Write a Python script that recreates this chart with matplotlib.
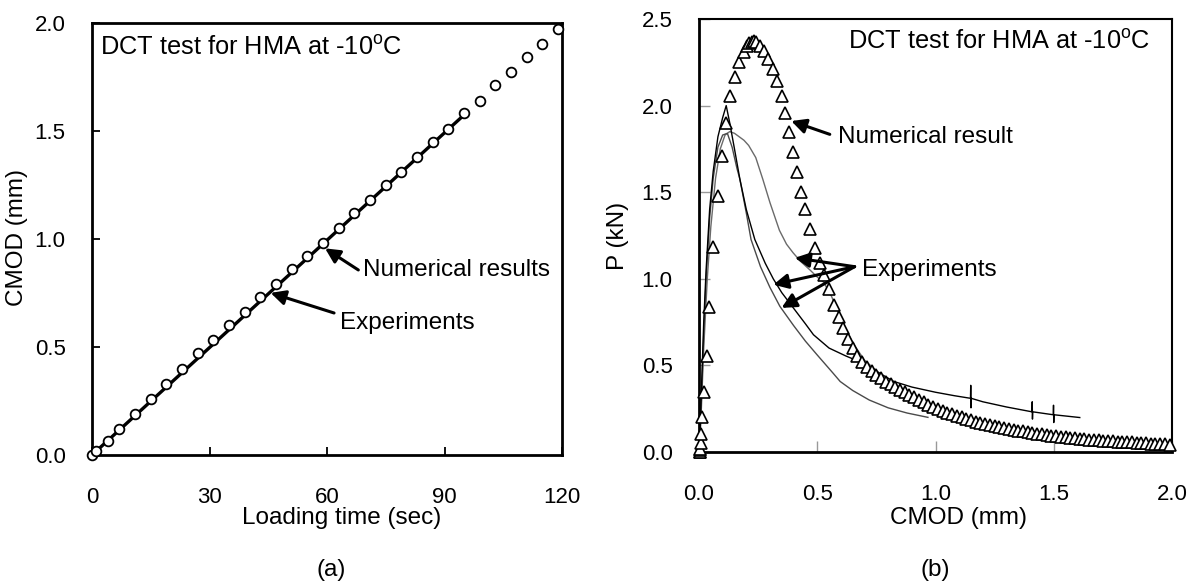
import matplotlib
matplotlib.use('Agg')
import matplotlib.pyplot as plt

plt.rcParams['font.family'] = ['Liberation Sans', 'DejaVu Sans']
plt.rcParams['mathtext.fontset'] = 'custom'
plt.rcParams['mathtext.rm'] = 'Liberation Sans'
plt.rcParams['mathtext.it'] = 'Liberation Sans:italic'

# ---------------- Panel (a): CMOD vs loading time ----------------
num_time = [0, 1, 4, 7, 11, 15, 19, 23, 27, 31, 35, 39, 43, 47, 51, 55, 59, 63,
            67, 71, 75, 79, 83, 87, 91, 95, 99, 103, 107, 111, 115, 119]
num_cmod_a = [0.0, 0.02, 0.065, 0.12, 0.19, 0.26, 0.33, 0.40, 0.47, 0.53, 0.60,
              0.66, 0.73, 0.79, 0.86, 0.92, 0.98, 1.05, 1.12, 1.18, 1.25, 1.31,
              1.38, 1.45, 1.51, 1.58, 1.64, 1.71, 1.77, 1.84, 1.90, 1.97]
exp_time = [0, 96]
exp_cmod_a = [0.0, 1.59]

# ---------------- Panel (b): P vs CMOD ----------------
num_cmod_b = [0.005, 0.005, 0.005, 0.006, 0.008, 0.010, 0.014, 0.020, 0.032, 0.044,
              0.060, 0.079, 0.098, 0.114, 0.131, 0.152, 0.171, 0.190, 0.204, 0.213,
              0.222, 0.231, 0.241, 0.258, 0.274, 0.293, 0.311, 0.330, 0.349, 0.363,
              0.381, 0.398, 0.415, 0.433, 0.450,
              0.47, 0.49, 0.51, 0.53, 0.55, 0.57, 0.59, 0.61, 0.63, 0.65, 0.67, 0.69,
              0.71, 0.73, 0.75, 0.77, 0.79, 0.81, 0.83, 0.85, 0.87, 0.89, 0.91, 0.93,
              0.95, 0.97, 0.99, 1.01, 1.03, 1.05, 1.07, 1.09, 1.11, 1.13, 1.15, 1.17,
              1.19, 1.21, 1.23, 1.25, 1.27, 1.29, 1.31, 1.33, 1.35, 1.37, 1.39, 1.41,
              1.43, 1.45, 1.47, 1.49, 1.51, 1.53, 1.55, 1.57, 1.59, 1.61, 1.63, 1.65,
              1.67, 1.69, 1.71, 1.73, 1.75, 1.77, 1.79, 1.81, 1.83, 1.85, 1.87, 1.89,
              1.91, 1.93, 1.95, 1.97, 1.99]
num_p_b = [0.0, 0.0, 0.01, 0.02, 0.05, 0.104, 0.20, 0.345, 0.552, 0.835,
           1.182, 1.477, 1.709, 1.898, 2.053, 2.168, 2.253, 2.307, 2.345, 2.362,
           2.370, 2.372, 2.366, 2.345, 2.317, 2.269, 2.211, 2.143, 2.056, 1.96,
           1.848, 1.732, 1.616, 1.50, 1.404,
           1.29, 1.18, 1.09, 1.02, 0.94, 0.85, 0.78, 0.715, 0.652, 0.598, 0.553, 0.518,
           0.490, 0.466, 0.446, 0.426, 0.406, 0.390, 0.375, 0.360, 0.345, 0.330, 0.315, 0.300,
           0.286, 0.274, 0.262, 0.250, 0.238, 0.228, 0.218, 0.209, 0.200, 0.192, 0.184, 0.176,
           0.170, 0.164, 0.158, 0.152, 0.146, 0.140, 0.134, 0.129, 0.124, 0.119, 0.114, 0.110,
           0.106, 0.102, 0.098, 0.095, 0.092, 0.089, 0.086, 0.083, 0.080, 0.077, 0.075, 0.072,
           0.070, 0.068, 0.066, 0.064, 0.062, 0.060, 0.058, 0.056, 0.055, 0.053, 0.051, 0.050,
           0.048, 0.047, 0.046, 0.044, 0.043]

exp1_cmod = [0.0, 0.005, 0.01, 0.02, 0.03, 0.045, 0.06, 0.08, 0.10, 0.115, 0.13, 0.15,
             0.173, 0.20, 0.236, 0.28, 0.314, 0.35, 0.40, 0.45, 0.484, 0.55, 0.62, 0.711,
             0.77, 0.824, 0.90, 1.00, 1.08, 1.148, 1.149, 1.150, 1.151, 1.20, 1.30,
             1.408, 1.409, 1.410, 1.411, 1.498, 1.499, 1.500, 1.501, 1.61]
exp1_p = [0.0, 0.15, 0.35, 0.75, 1.05, 1.40, 1.62, 1.82, 1.93, 2.0, 1.90, 1.75,
          1.574, 1.40, 1.227, 1.09, 1.0, 0.92, 0.83, 0.74, 0.677, 0.60, 0.555, 0.503,
          0.45, 0.407, 0.375, 0.345, 0.325, 0.31, 0.385, 0.255, 0.31, 0.29, 0.26,
          0.232, 0.29, 0.19, 0.232, 0.215, 0.27, 0.17, 0.215, 0.199]

exp2_cmod = [0.0, 0.005, 0.01, 0.02, 0.03, 0.045, 0.06, 0.08, 0.10, 0.12, 0.14, 0.16,
             0.173, 0.20, 0.22, 0.26, 0.30, 0.342, 0.40, 0.45, 0.50, 0.567, 0.597, 0.65,
             0.72, 0.80, 0.88, 0.968]
exp2_p = [0.0, 0.12, 0.30, 0.68, 1.00, 1.35, 1.58, 1.76, 1.83, 1.84, 1.76, 1.64,
          1.574, 1.38, 1.227, 1.07, 0.95, 0.841, 0.73, 0.64, 0.56, 0.455, 0.407, 0.355,
          0.30, 0.255, 0.225, 0.20]

exp3_cmod = [0.0, 0.005, 0.01, 0.02, 0.035, 0.05, 0.07, 0.09, 0.11, 0.13, 0.15, 0.17,
             0.19, 0.21, 0.24, 0.27, 0.30, 0.34, 0.37, 0.398, 0.43, 0.47, 0.50, 0.527,
             0.56, 0.60, 0.65, 0.70, 0.75]
exp3_p = [0.0, 0.1, 0.25, 0.6, 1.0, 1.3, 1.58, 1.75, 1.83, 1.85, 1.84, 1.82,
          1.80, 1.77, 1.70, 1.574, 1.44, 1.28, 1.20, 1.15, 1.10, 1.05, 1.01, 0.98,
          0.90, 0.77, 0.63, 0.53, 0.47]

a_xticks = [0, 30, 60, 90, 120]
a_yticks = [0.0, 0.5, 1.0, 1.5, 2.0]
b_xticks = [0.0, 0.5, 1.0, 1.5, 2.0]
b_yticks = [0.0, 0.5, 1.0, 1.5, 2.0, 2.5]

W, H = 1200, 587
fig = plt.figure(figsize=(W / 100, H / 100), dpi=100)

TICK_FS = 16
TXT_FS = 17.5
TITLE_FS = 18.3

def fx(px):
    return px / W

def fy(py):
    return 1 - py / H

# ---------- Panel (a) ----------
axA = fig.add_axes([fx(92), fy(455), (562 - 92) / W, (455 - 22.7) / H])
axA.plot(exp_time, exp_cmod_a, color='black', lw=2.4, zorder=2, solid_capstyle='butt')
axA.plot(num_time, num_cmod_a, linestyle='none', marker='o', ms=7, mfc='white',
         mec='black', mew=1.3, clip_on=False, zorder=3)
axA.set_xlim(0, 120)
axA.set_ylim(0, 2.0)
axA.set_xticks(a_xticks)
axA.set_xticklabels([str(v) for v in a_xticks])
axA.set_yticks(a_yticks)
axA.set_yticklabels(['%.1f' % v for v in a_yticks])
axA.tick_params(axis='x', direction='in', length=6, width=1.3, pad=23, labelsize=TICK_FS)
axA.tick_params(axis='y', direction='in', length=6, width=1.3, pad=19, labelsize=TICK_FS)
for s in axA.spines.values():
    s.set_linewidth(2)

axA.text(2.0, 1.883, r'DCT test for HMA at -10$^{\rm o}$C', fontsize=TITLE_FS,
         ha='left', va='center')
arrow_kw = dict(arrowstyle='-|>', color='black', lw=2.2, mutation_scale=22,
                shrinkA=0, shrinkB=0)
axA.annotate('', xy=(59.5, 0.956), xytext=(68.0, 0.856), arrowprops=arrow_kw)
axA.text(69.2, 0.856, 'Numerical results', fontsize=TXT_FS, ha='left', va='center')
axA.annotate('', xy=(45.6, 0.75), xytext=(61.8, 0.657), arrowprops=arrow_kw)
axA.text(63.3, 0.611, 'Experiments', fontsize=TXT_FS, ha='left', va='center')

# ---------- Panel (b) ----------
axB = fig.add_axes([fx(699), fy(452), (1172 - 699) / W, (452 - 19) / H])
axB.plot(exp3_cmod, exp3_p, color='#6a6a6a', lw=1.0, zorder=2)
axB.plot(exp2_cmod, exp2_p, color='#4a4a4a', lw=1.0, zorder=2)
axB.plot(exp1_cmod, exp1_p, color='black', lw=1.0, zorder=2)
axB.plot(num_cmod_b, num_p_b, linestyle='none', marker='^', ms=9, mfc='white',
         mec='black', mew=1.2, clip_on=False, zorder=3)
axB.set_xlim(0, 2.0)
axB.set_ylim(0, 2.5)
axB.set_xticks(b_xticks)
axB.set_xticklabels(['%.1f' % v for v in b_xticks])
axB.set_yticks(b_yticks)
axB.set_yticklabels(['%.1f' % v for v in b_yticks])
axB.tick_params(axis='x', direction='in', length=8, width=1.0, color='#999999',
                pad=23, labelsize=TICK_FS)
axB.tick_params(axis='y', direction='in', length=8, width=1.0, color='#999999',
                pad=19, labelsize=TICK_FS)
axB.spines['left'].set_linewidth(2)
axB.spines['bottom'].set_linewidth(2)
axB.spines['top'].set_linewidth(1.5)
axB.spines['right'].set_linewidth(1.5)

axB.text(1.907, 2.367, r'DCT test for HMA at -10$^{\rm o}$C', fontsize=TITLE_FS,
         ha='right', va='center')
axB.annotate('', xy=(0.39, 1.911), xytext=(0.553, 1.834), arrowprops=arrow_kw)
axB.text(0.586, 1.817, 'Numerical result', fontsize=TXT_FS, ha='left', va='center')
for hx, hy in [(0.405, 1.121), (0.314, 0.966), (0.349, 0.832)]:
    axB.annotate('', xy=(hx, hy), xytext=(0.658, 1.07), arrowprops=arrow_kw)
axB.text(0.69, 1.053, 'Experiments', fontsize=TXT_FS, ha='left', va='center')

# ---------- axis labels & panel captions ----------
fig.text(fx(342), fy(518), 'Loading time (sec)', fontsize=TXT_FS, ha='center', va='center')
fig.text(fx(17), fy(238), 'CMOD (mm)', fontsize=TXT_FS, ha='center', va='center', rotation=90)
fig.text(fx(958), fy(518), 'CMOD (mm)', fontsize=TXT_FS, ha='center', va='center')
fig.text(fx(618), fy(236), 'P (kN)', fontsize=TXT_FS, ha='center', va='center', rotation=90)
fig.text(fx(331), fy(570), '(a)', fontsize=TXT_FS, ha='center', va='center')
fig.text(fx(935), fy(570), '(b)', fontsize=TXT_FS, ha='center', va='center')

fig.savefig('out.png', dpi=100)
